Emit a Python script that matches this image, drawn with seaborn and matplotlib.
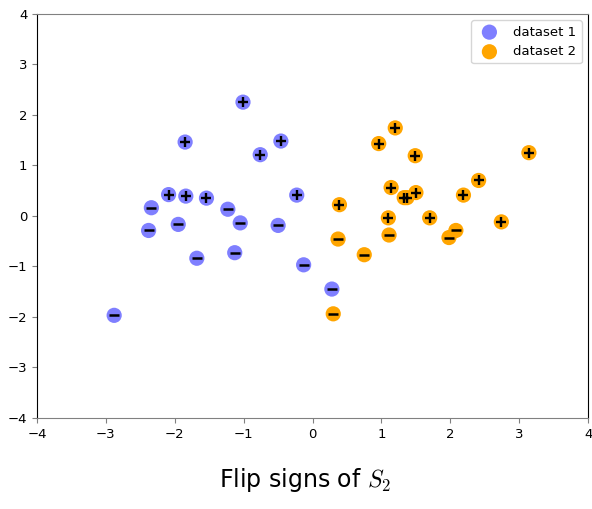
import pandas as pd
import matplotlib
matplotlib.use("Agg")
import matplotlib.pyplot as plt
import seaborn as sns

# values
x1 = [-1.01, -1.85, -0.76, -0.46, -2.09, -1.84, -1.54, -2.34, -1.23, -1.05,
      -2.38, -1.95, -0.23, -0.50, -1.68, -1.13, -0.13, -2.88, 0.28]
y1 = [2.25, 1.46, 1.21, 1.48, 0.42, 0.39, 0.35, 0.16, 0.13, -0.14,
      -0.29, -0.17, 0.41, -0.19, -0.84, -0.73, -0.97, -1.97, -1.45]
s1 = [1, 1, 1, 1, 1, 1, 1, -1, -1, -1,
      -1, -1, 1, -1, -1, -1, -1, -1, -1]

x2 = [1.20, 0.96, 1.49, 3.14, 1.14, 1.33, 1.37, 1.50, 2.41, 2.19,
      0.39, 1.10, 1.70, 2.74, 0.37, 1.11, 0.75, 2.08, 1.98, 0.30]
y2 = [1.74, 1.43, 1.19, 1.25, 0.56, 0.36, 0.36, 0.46, 0.70, 0.41,
      0.22, -0.04, -0.04, -0.12, -0.46, -0.38, -0.77, -0.29, -0.43, -1.94]
s2 = [1, 1, 1, 1, 1, 1, 1, 1, 1, 1,
      1, 1, 1, 1, -1, -1, -1, -1, -1, -1]

df1 = pd.DataFrame({'x': x1, 'y': y1, 'sign': s1})
df2 = pd.DataFrame({'x': x2, 'y': y2, 'sign': s2})
allpts = pd.concat([df1, df2])

plt.rcParams['mathtext.fontset'] = 'cm'

fig = plt.figure(figsize=(5.92, 5.09), dpi=100)
ax = fig.add_axes([0.0625, 0.179, 0.931, 0.794])

sns.scatterplot(data=df1, x='x', y='y', color='blue', alpha=0.5, s=120,
                edgecolor='none', label='dataset 1', ax=ax)
sns.scatterplot(data=df2, x='x', y='y', color='orange', s=120,
                edgecolor='none', label='dataset 2', ax=ax)

pos = allpts[allpts['sign'] > 0]
neg = allpts[allpts['sign'] < 0]
ax.scatter(pos['x'], pos['y'], marker='+', color='black', s=55, linewidths=1.7)
ax.scatter(neg['x'], neg['y'], marker='_', color='black', s=60, linewidths=1.8)

ax.set_xlim(-4, 4)
ax.set_ylim(-4, 4)
ax.set_xlabel('')
ax.set_ylabel('')
ax.tick_params(color='gray', labelsize=9.5)
for side in ['left', 'right']:
    ax.spines[side].set_color('black')
for side in ['top', 'bottom']:
    ax.spines[side].set_color('gray')

ax.legend(loc='upper right', fontsize=9.5)

fig.text(0.515, 0.043, 'Flip signs of $S_2$', ha='center', fontsize=17)

fig.savefig('out.png', dpi=100)
